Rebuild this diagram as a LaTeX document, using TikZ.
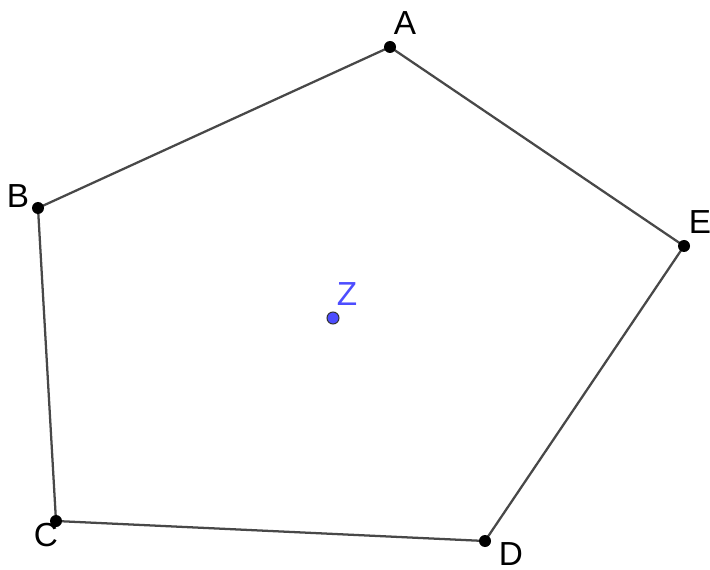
\documentclass[tikz,border=0pt]{standalone}
\usepackage{fontspec}
\setmainfont{Liberation Sans}
\definecolor{zblue}{RGB}{77,77,255}
\definecolor{edgegray}{RGB}{72,72,72}
\tikzset{
	pt/.style={circle,fill=black,inner sep=0pt,minimum size=9pt},
	lbl/.style={font=\fontsize{25}{27}\selectfont,inner sep=0pt}
}
\begin{document}
\begin{tikzpicture}[x=0.75pt,y=-0.75pt,line join=round,line cap=round]
	\useasboundingbox (0,0) rectangle (710,570);
	\coordinate (A) at (390,47);
	\coordinate (B) at (38,208);
	\coordinate (C) at (56,521);
	\coordinate (D) at (485,541);
	\coordinate (E) at (684,246);
	\draw[edgegray,line width=1.7pt] (A)--(B)--(C)--(D)--(E)--cycle;
	\node[pt] (pA) at (A){}; \node[pt] (pB) at (B){}; \node[pt] (pC) at (C){};
	\node[pt] (pD) at (D){}; \node[pt] (pE) at (E){};
	\node[pt,fill=zblue,draw=black!80,line width=0.8pt,minimum size=9pt] (pZ) at (333,318){};
	\draw (405,23)node[lbl](lA){A} (18,196)node[lbl](lB){B} (46,535)node[lbl](lC){C}
		(511,554)node[lbl](lD){D} (700,222)node[lbl](lE){E} (347,294)node[lbl,text=zblue](lZ){Z};
\end{tikzpicture}
\end{document}
